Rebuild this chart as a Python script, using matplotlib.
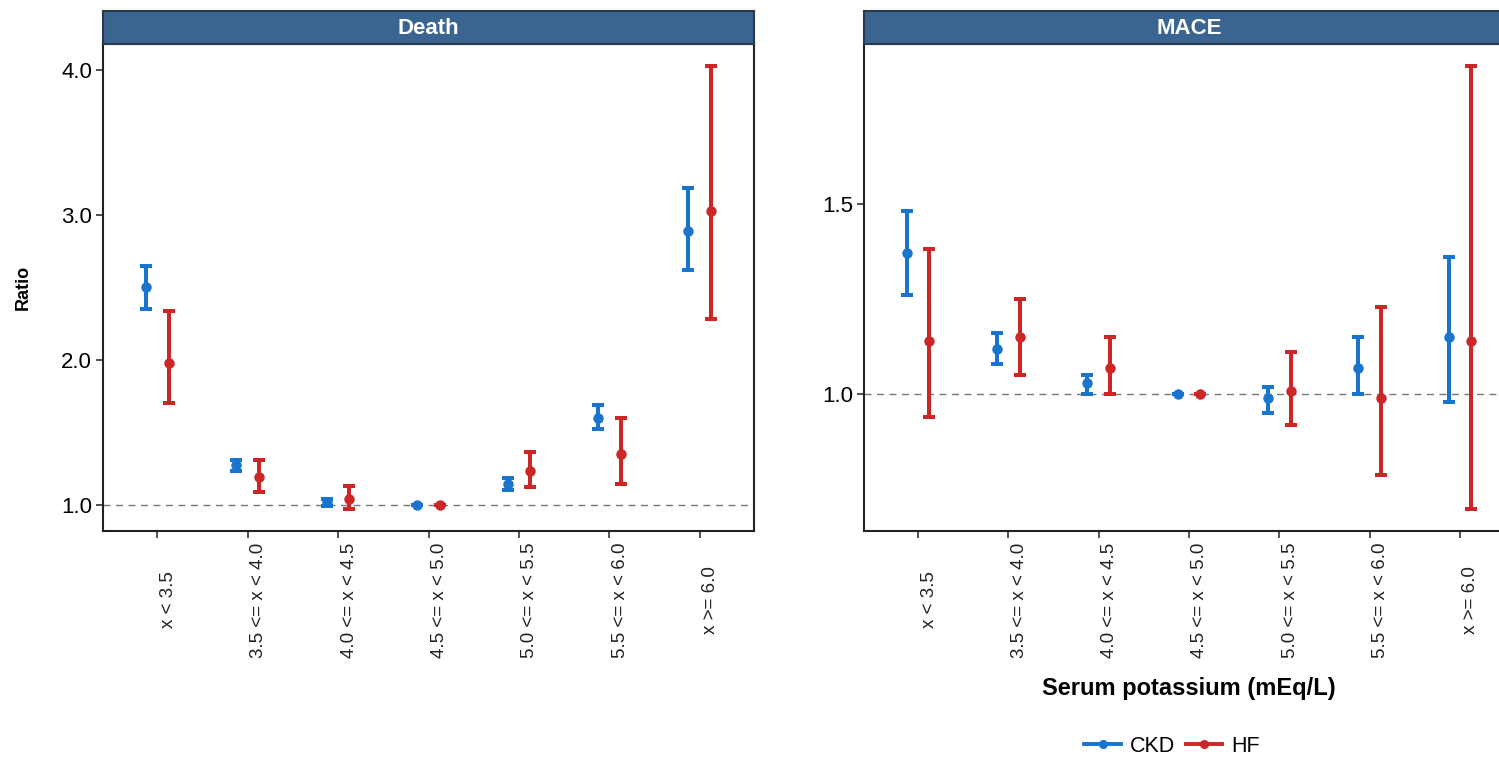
import matplotlib
matplotlib.use("Agg")
import matplotlib.pyplot as plt
from matplotlib.lines import Line2D
from matplotlib.transforms import ScaledTranslation, blended_transform_factory
import numpy as np

plt.rcParams['font.family'] = ['Liberation Sans', 'DejaVu Sans']

categories = ["x < 3.5", "3.5 <= x < 4.0", "4.0 <= x < 4.5", "4.5 <= x < 5.0",
              "5.0 <= x < 5.5", "5.5 <= x < 6.0", "x >= 6.0"]

# Death panel
death_ckd = [2.50, 1.27, 1.02, 1.00, 1.14, 1.60, 2.89]
death_ckd_lo = [2.35, 1.23, 0.99, 1.00, 1.10, 1.52, 2.62]
death_ckd_hi = [2.65, 1.31, 1.04, 1.00, 1.18, 1.69, 3.19]
death_hf = [1.98, 1.19, 1.04, 1.00, 1.23, 1.35, 3.03]
death_hf_lo = [1.70, 1.09, 0.97, 1.00, 1.12, 1.14, 2.28]
death_hf_hi = [2.34, 1.31, 1.13, 1.00, 1.36, 1.60, 4.03]

# MACE panel
mace_ckd = [1.37, 1.12, 1.03, 1.00, 0.99, 1.07, 1.15]
mace_ckd_lo = [1.26, 1.08, 1.00, 1.00, 0.95, 1.00, 0.98]
mace_ckd_hi = [1.48, 1.16, 1.05, 1.00, 1.02, 1.15, 1.36]
mace_hf = [1.14, 1.15, 1.07, 1.00, 1.01, 0.99, 1.14]
mace_hf_lo = [0.94, 1.05, 1.00, 1.00, 0.92, 0.79, 0.70]
mace_hf_hi = [1.38, 1.25, 1.15, 1.00, 1.11, 1.23, 1.86]

death_ticks = [1.0, 2.0, 3.0, 4.0]
mace_ticks = [1.0, 1.5]

BLUE = "#1874CD"
RED = "#CD2626"
STRIP = "#3A6590"

W, H = 1499, 757
fig = plt.figure(figsize=(W / 100, H / 100), dpi=100)


def box(x0, y0, x1, y1):
    # pixel box -> figure fraction rect
    return [x0 / W, 1 - y1 / H, (x1 - x0) / W, (y1 - y0) / H]


def panel(ax_rect, strip_rect, title, ckd, ckd_lo, ckd_hi, hf, hf_lo, hf_hi, yticks):
    ax = fig.add_axes(ax_rect)
    x = np.arange(len(categories))
    dodge = 0.125
    for vals, lo, hi, col, off in [(ckd, ckd_lo, ckd_hi, BLUE, -dodge),
                                   (hf, hf_lo, hf_hi, RED, dodge)]:
        vals = np.array(vals)
        err = np.vstack([vals - np.array(lo), np.array(hi) - vals])
        ax.errorbar(x + off, vals, yerr=err, fmt='o', color=col, ecolor=col,
                    elinewidth=2.9, capsize=4.5, capthick=2.9, markersize=6.5, zorder=3)
    ax.axhline(1.0, color="#777777", lw=1.0, ls=(0, (5, 4)), zorder=1)

    allv = np.concatenate([ckd_lo, ckd_hi, hf_lo, hf_hi])
    rng = allv.max() - allv.min()
    ax.set_ylim(allv.min() - 0.05 * rng, allv.max() + 0.05 * rng)
    ax.set_xlim(-0.6, len(categories) - 0.4)
    ax.set_yticks(yticks, labels=[f"{t:.1f}" for t in yticks])
    ax.set_xticks(x, labels=[""] * len(x))
    ax.tick_params(axis='y', labelsize=16, length=5, width=1.2, color="#333333", pad=3)
    ax.tick_params(axis='x', length=5, width=1.2, color="#333333")
    for s in ax.spines.values():
        s.set_linewidth(1.5)
        s.set_color("#222222")

    tr = blended_transform_factory(ax.transData, ax.transAxes) + \
        ScaledTranslation(11 / 100, -69 / 100, fig.dpi_scale_trans)
    for xi, lab in zip(x, categories):
        ax.text(xi, 0, lab, transform=tr, rotation=90, ha='center', va='center',
                fontsize=13.5, color="#222222")

    sax = fig.add_axes(strip_rect)
    sax.set_facecolor(STRIP)
    sax.set_xticks([])
    sax.set_yticks([])
    for s in sax.spines.values():
        s.set_color("#2A3A4C")
        s.set_linewidth(1.5)
    sax.text(0.5, 0.48, title, transform=sax.transAxes, ha='center', va='center',
             color='white', fontsize=16, fontweight='bold')
    return ax


panel(box(103, 44, 754, 531), box(103, 11, 754, 44), "Death",
      death_ckd, death_ckd_lo, death_ckd_hi, death_hf, death_hf_lo, death_hf_hi, death_ticks)
panel(box(864, 44, 1514, 531), box(864, 11, 1514, 44), "MACE",
      mace_ckd, mace_ckd_lo, mace_ckd_hi, mace_hf, mace_hf_lo, mace_hf_hi, mace_ticks)

fig.text(23 / W, 1 - 287 / H, "Ratio", rotation=90, ha='center', va='center',
         fontsize=13, fontweight='bold')
fig.text(1189 / W, 1 - 688 / H, "Serum potassium (mEq/L)", ha='center', va='center',
         fontsize=17, fontweight='bold')

handles = [Line2D([0], [0], color=BLUE, lw=2.8, marker='o', markersize=5.5),
           Line2D([0], [0], color=RED, lw=2.8, marker='o', markersize=5.5)]
fig.legend(handles, ["CKD", "HF"], loc='center', bbox_to_anchor=(1172 / W, 1 - 746 / H),
           ncol=2, frameon=False, fontsize=15.5, handlelength=1.7, handletextpad=0.4,
           columnspacing=0.5, borderpad=0)

fig.savefig("out.png", dpi=100)
